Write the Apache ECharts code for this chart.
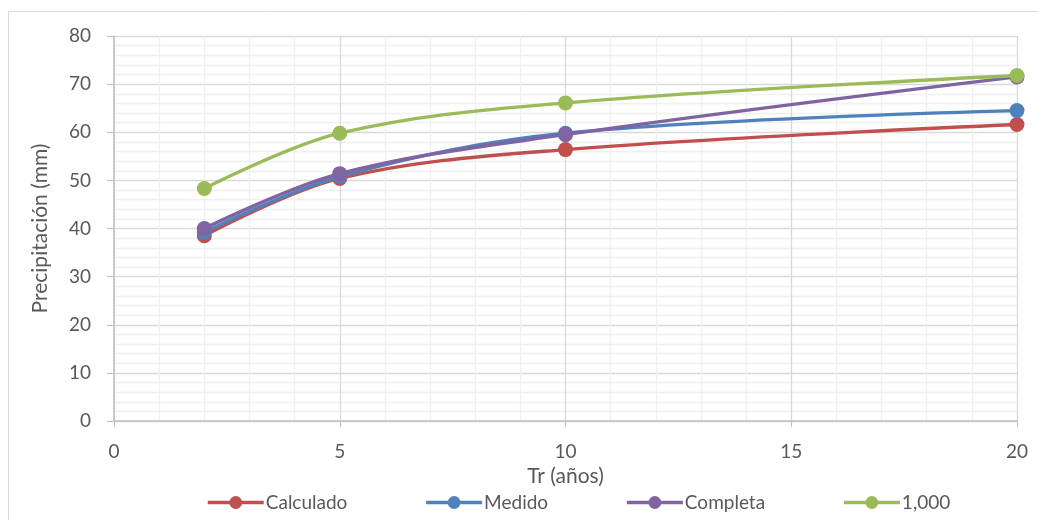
<!DOCTYPE html>
<html>
<head>
<meta charset="utf-8">
<script src="https://cdn.jsdelivr.net/npm/echarts@6/dist/echarts.min.js"></script>
<style>
  html, body { margin: 0; padding: 0; background: #fff; }
  #chart { width: 1038px; height: 520px; }
</style>
</head>
<body>
<div id="chart"></div>
<script>
// Return periods (years) and precipitation (mm) per series
const returnPeriods = [2, 5, 10, 20];
const seriesNames = ['Calculado', 'Medido', 'Completa', '1,000'];
const calculado = [38.5, 50.4, 56.4, 61.6];
const medido = [39.2, 50.8, 59.8, 64.5];
const completa = [40.0, 51.4, 59.5, 71.5];
const mil = [48.3, 59.8, 66.1, 71.8];
const colors = ['#C0504D', '#4F81BD', '#8064A2', '#9BBB59'];

const font = 'Lato, "Open Sans", sans-serif';
const pair = vals => returnPeriods.map((x, i) => [x, vals[i]]);

const chart = echarts.init(document.getElementById('chart'), null, { renderer: 'canvas' });

chart.setOption({
  animation: false,
  backgroundColor: '#fff',
  color: colors,
  graphic: [{
    type: 'rect',
    shape: { x: 8.5, y: 11.5, width: 1040, height: 520 },
    style: { fill: 'none', stroke: '#d9d9d9', lineWidth: 1 },
    z: -10
  }],
  grid: { left: 114, right: 21, top: 36, bottom: 99 },
  legend: {
    data: seriesNames,
    top: 488,
    left: 201,
    itemWidth: 56,
    itemHeight: 16,
    itemGap: 77,
    lineStyle: { width: 3.5 },
    textStyle: { fontFamily: font, fontSize: 19, color: '#595959', padding: [0, 0, 0, -3] }
  },
  xAxis: {
    type: 'value',
    min: 0, max: 20, interval: 5,
    name: 'Tr (años)',
    nameLocation: 'middle',
    nameGap: 36,
    nameTextStyle: { fontFamily: font, fontSize: 21, color: '#595959' },
    axisLine: { show: true, lineStyle: { color: '#bfbfbf', width: 1.5 } },
    axisTick: { show: true, length: 6, lineStyle: { color: '#bfbfbf' } },
    axisLabel: { fontFamily: font, fontSize: 19, color: '#595959', margin: 21 },
    splitLine: { show: true, lineStyle: { color: '#d9d9d9', width: 1.3 } },
    minorTick: { show: false, splitNumber: 5 },
    minorSplitLine: { show: true, lineStyle: { color: '#f0f0f0', width: 1.3 } }
  },
  yAxis: {
    type: 'value',
    min: 0, max: 80, interval: 10,
    name: 'Precipitación (mm)',
    nameLocation: 'middle',
    nameGap: 63,
    nameTextStyle: { fontFamily: font, fontSize: 21, color: '#595959' },
    axisLine: { show: true, lineStyle: { color: '#bfbfbf', width: 1.5 } },
    axisTick: { show: true, length: 7, lineStyle: { color: '#bfbfbf' } },
    axisLabel: { fontFamily: font, fontSize: 19, color: '#595959', margin: 23 },
    splitLine: { show: true, lineStyle: { color: '#d9d9d9', width: 1.3 } },
    minorTick: { show: false, splitNumber: 5 },
    minorSplitLine: { show: true, lineStyle: { color: '#f0f0f0', width: 1.3 } }
  },
  series: [calculado, medido, completa, mil].map((vals, i) => ({
    name: seriesNames[i],
    type: 'line',
    data: pair(vals),
    smooth: 0.35,
    symbol: 'circle',
    symbolSize: 15,
    lineStyle: { width: 3.4, color: colors[i] },
    itemStyle: { color: colors[i] },
    z: 2 + i
  }))
});
</script>
</body>
</html>
